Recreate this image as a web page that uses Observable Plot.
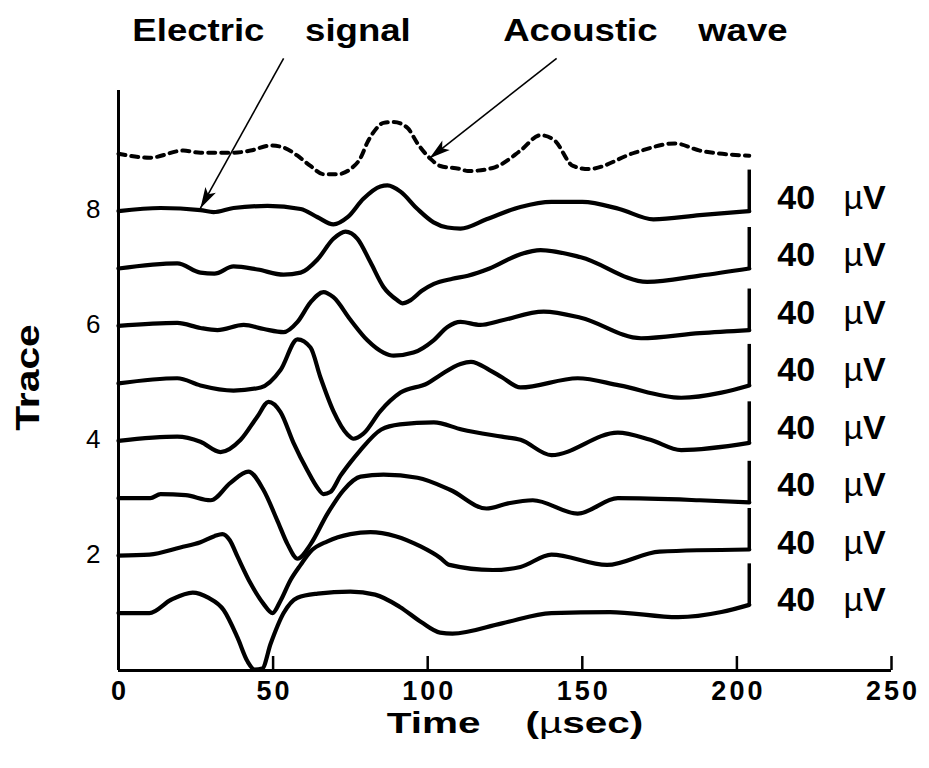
<!DOCTYPE html>
<html><head><meta charset="utf-8">
<script src="https://cdn.jsdelivr.net/npm/d3@7"></script>
<script src="https://cdn.jsdelivr.net/npm/@observablehq/plot@0.6"></script>
<style>
html,body{margin:0;padding:0;background:#fff;}
#chart svg text{font-family:"Liberation Sans",Arial,Helvetica,sans-serif;white-space:pre;}
</style></head><body><div id="chart"></div>
<script>
// amplitudes in µV, [time µs, amplitude µV]
const trace1 = [[0,0],[10,0],[17,13],[24,20],[29,15],[34,3],[38.5,-24],[41.7,-47],[44,-55],[46.5,-54],[49.2,-30],[53.4,0],[57.9,15],[64.4,19],[75,21],[83,18],[91,6],[98,-9],[104,-19],[108,-20],[124,-10],[140,0],[159,1],[181,-4],[195,1],[204,8]];
const trace2 = [[0,0],[10,1],[20,8],[26.5,13],[31,19],[33.6,21],[36,15],[38.5,-1],[42.7,-27],[46.9,-47],[49.8,-56],[52.4,-44],[55.6,-24],[58.9,-9],[62.1,4],[67.6,14],[75,21],[81.5,23],[89.6,19],[97.7,9],[104,-2],[107,-9],[121,-14],[130,-11],[140,1],[158,-9],[175,4],[204,6]];
const trace3 = [[0,0],[10.3,0],[13.6,4],[21.7,3],[29.8,-2],[36.2,15],[42,26],[46.9,8],[51.4,-22],[54.7,-45],[57.9,-59],[62.1,-45],[67.6,-15],[72.8,8],[78.3,21],[85.7,23],[96.7,20],[107.4,8],[119,-10],[126,-5],[134,-2],[148.5,-15],[161.5,0],[188,-2],[204,-4]];
const trace4 = [[0,0],[19,4],[26.5,-1],[33,-11],[39.5,1],[45,24],[48.5,38],[52.4,28],[56.6,-2],[61.1,-29],[64.4,-46],[66.3,-52],[68.5,-50],[71.8,-34],[75,-21],[78,-10],[85,11],[91,16],[102,18],[111,11],[124,4],[130,1],[140,-14],[161.5,8],[172,1],[182,-9],[204,-2]];
const trace5 = [[0,0],[19,5],[26.5,-2],[37.2,-7],[46,-4],[52.4,13],[57.9,43],[62.1,35],[65.3,6],[69.5,-27],[74.1,-50],[76,-54],[79.2,-49],[84.7,-27],[91.2,-9],[99.9,0],[104,8],[110.6,19],[114,21],[120,13],[124,6],[130,-4],[148.5,5],[162,-2],[182,-14],[195,-9],[204,-2]];
const trace6 = [[0,0],[19,3],[26.5,-2],[32,-4],[40.5,1],[47,-3],[53.4,-6],[57.9,4],[62.1,23],[66.3,33],[69.5,28],[75,6],[80.5,-14],[85.7,-26],[89,-29],[95.4,-26],[101.9,-14],[106.4,-1],[110.6,4],[117,1],[123.5,5],[137.5,14],[149.5,8],[169,-12],[188,-7],[204,-4]];
const trace7 = [[0,0],[19,5],[26.5,-4],[31,-5],[37.2,2],[45,-1],[53.4,-6],[58.9,-4],[64.4,9],[69.5,29],[73.4,36],[77.3,29],[81.5,6],[85.7,-18],[90.2,-31],[91.8,-34],[94.4,-31],[98,-22],[102,-15],[108,-10],[113,-7],[120,0],[130,14],[136.5,18],[149.5,11],[171,-13],[188,-7],[204,0]];
const trace8 = [[0,0],[13.6,3],[26.5,1],[30.7,-1],[37.2,3],[48.2,5],[58.9,2],[64.4,-6],[69.5,-13],[74.1,-6],[79.2,12],[84.7,24],[87,25],[91.2,19],[96.7,2],[101.9,-11],[106.4,-16],[110.6,-17],[119,-8],[130,4],[140,9],[150,9],[162,2],[173,-8],[188,-4],[204,0]];
const acoustic = [[0,0],[10,-4],[21,3],[26.5,1],[37.2,1],[42.7,3],[49.2,8],[53.4,6],[57.9,-2],[62.1,-12],[66.3,-20],[70.8,-20],[75,-15],[78.3,-4],[80.5,11],[82.5,21],[85.7,30],[89,31],[93.5,25],[96.7,10],[100.9,-5],[104.1,-12],[110.6,-15],[113,-17],[121,-14],[124,-10],[130,3],[136.5,18],[141,13],[147,-12],[152,-15],[167,1],[180,10],[188,3],[204,-2]];

const traceNumbers = [1,2,3,4,5,6,7,8];
const acousticBase = 9;
const xTicks = [0,50,100,150,200,250];
const yTicks = [2,4,6,8];
const barUV = 40;          // scale bar, µV
const uVPerTrace = 56;     // µV per trace spacing
const xLabel = "Time    (µsec)";
const yLabel = "Trace";
// annotation text and the point (time, trace) each arrow points to
const annotations = [
  {label: "Electric    signal", textT: 49.5, textY: 11.13, fromT: 53.4, fromY: 10.66, tipT: 26.5, tipY: 8.05},
  {label: "Acoustic    wave", textT: 170.4, textY: 11.13, fromT: 141.7, fromY: 10.66, tipT: 100.6, tipY: 8.92}
];

const W = 929, H = 768, MT = 90, MB = 98, ML = 118, MR = 38;
const xDomain = [0, 250], yDomain = [0, 10.1];

const electric = [trace1, trace2, trace3, trace4, trace5, trace6, trace7, trace8];
const rows = [];
electric.forEach((pts, i) => pts.forEach(([t, v]) => rows.push({id: traceNumbers[i], t, y: traceNumbers[i] + v / uVPerTrace})));
const acousticRows = acoustic.map(([t, v]) => ({t, y: acousticBase + v / uVPerTrace}));
const barText = `${barUV}   µV`;
const bars = electric.map((pts, i) => {
  const [t, v] = pts[pts.length - 1];
  const y1 = traceNumbers[i] + v / uVPerTrace;
  return {t, y1, y2: y1 + barUV / uVPerTrace, base: traceNumbers[i], label: barText};
});

// arrowhead orientation in screen space, from the same scales the plot uses
const sx = Plot.scale({x: {domain: xDomain, range: [ML, W - MR]}});
const sy = Plot.scale({y: {domain: yDomain, range: [H - MB, MT]}});
const heads = annotations.map(a => {
  const dx = sx.apply(a.tipT) - sx.apply(a.fromT), dy = sy.apply(a.tipY) - sy.apply(a.fromY);
  return {t: a.tipT, y: a.tipY, angle: Math.atan2(dx, -dy) * 180 / Math.PI};
});
const headSymbol = {draw(ctx) { ctx.moveTo(0, 0); ctx.lineTo(6, 21); ctx.lineTo(0, 16); ctx.lineTo(-6, 21); ctx.closePath(); }};

const FONT = '"Liberation Sans", Arial, Helvetica, sans-serif';
const plot = Plot.plot({
  width: W, height: H,
  marginTop: MT, marginBottom: MB, marginLeft: ML, marginRight: MR,
  x: {domain: xDomain},
  y: {domain: yDomain},
  style: {background: "#fff", color: "#000", fontFamily: FONT, overflow: "visible"},
  marks: [
    Plot.axisX(xTicks, {tickSize: 0, tickPadding: 10, fontSize: 27, fontWeight: "bold", label: null, tickFormat: d => `${d}`, dx: 1.5}),
    Plot.tickX(xTicks, {x: d => d, insetTop: 566, strokeWidth: 2.5}),
    Plot.axisY(yTicks, {tickSize: 0, tickPadding: 18, fontSize: 26, label: null, tickFormat: d => `${d}`, dy: -1}),
    Plot.ruleX([0], {strokeWidth: 3}),
    Plot.ruleY([0], {strokeWidth: 3}),
    Plot.line(rows, {x: "t", y: "y", z: "id", curve: "monotone-x", strokeWidth: 4.2, strokeLinejoin: "round"}),
    Plot.line(acousticRows, {x: "t", y: "y", curve: "monotone-x", strokeWidth: 4, strokeDasharray: "7,6"}),
    Plot.ruleX(bars, {x: "t", y1: "y1", y2: "y2", strokeWidth: 3.5}),
    Plot.text(bars, {x: "t", y: "base", text: "label", textAnchor: "start", dx: 28, dy: -13, fontSize: 34, fontWeight: "bold"}),
    Plot.link(annotations, {x1: "fromT", y1: "fromY", x2: "tipT", y2: "tipY", strokeWidth: 1.6}),
    Plot.dot(heads, {x: "t", y: "y", symbol: headSymbol, rotate: "angle", fill: "#000", stroke: "none", r: 5}),
    Plot.text(annotations, {x: "textT", y: "textY", text: "label", fontSize: 31, fontWeight: "bold"}),
    Plot.text([yLabel], {frameAnchor: "left", textAnchor: "middle", lineAnchor: "middle", dx: -90, dy: -3, rotate: -90, fontSize: 34, fontWeight: "bold"}),
    Plot.text([xLabel], {frameAnchor: "bottom", textAnchor: "middle", lineAnchor: "middle", dx: 10, dy: 53, fontSize: 30, fontWeight: "bold"})
  ]
});

// horizontal stretch / spacing of the scanned lettering, chosen by text content
const xTickStrings = new Set(xTicks.map(d => `${d}`));
const stretchOf = new Map();
annotations.forEach(a => stretchOf.set(a.label, {s: 1.18}));
stretchOf.set(yLabel, {s: 1.2});
stretchOf.set(xLabel, {s: 1.35, mu: true});
stretchOf.set(barText, {s: 1, mu: true});

d3.select(plot).selectAll("text").each(function() {
  const str = this.textContent;
  if (xTickStrings.has(str) && this.getAttribute("font-weight") !== "normal") {
    const g = this.closest("g");
    if (!g || !/y-axis/.test(g.getAttribute("aria-label") || "")) this.setAttribute("letter-spacing", 3);
  }
  const o = stretchOf.get(str);
  if (!o) return;
  if (o.s !== 1) {
    const tr = this.getAttribute("transform");
    if (tr) this.setAttribute("transform", tr + ` scale(${o.s},1)`);
    else {
      const x = +this.getAttribute("x") || 0, y = +this.getAttribute("y") || 0;
      this.setAttribute("transform", `translate(${x},${y}) scale(${o.s},1) translate(${-x},${-y})`);
    }
  }
  if (o.mu) {
    const i = str.indexOf("µ");
    this.textContent = "";
    const t = d3.select(this);
    t.append("tspan").text(str.slice(0, i));
    t.append("tspan").attr("font-weight", "normal").text("µ");
    t.append("tspan").text(str.slice(i + 1));
  }
});
document.getElementById("chart").append(plot);
</script></body></html>
